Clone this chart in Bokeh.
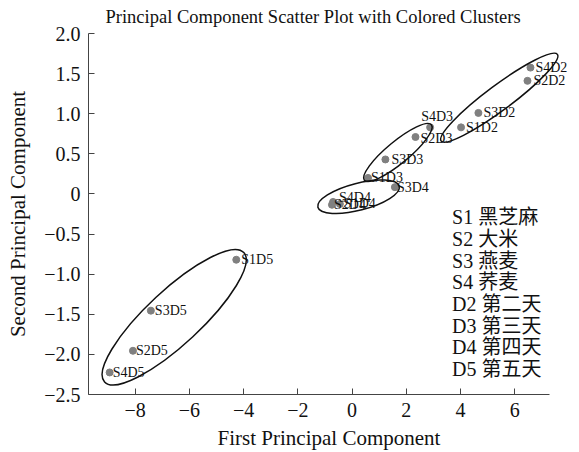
from bokeh.plotting import figure
from bokeh.models import ColumnDataSource, FixedTicker, Label
from bokeh.core.properties import value
from bokeh.embed import file_html
from bokeh.resources import INLINE

# ---- data ----
sample_labels = ["S1D2", "S2D2", "S3D2", "S4D2",
                 "S1D3", "S2D3", "S3D3", "S4D3",
                 "S1D4", "S2D4", "S3D4", "S4D4",
                 "S1D5", "S2D5", "S3D5", "S4D5"]
pc1 = [4.02, 6.47, 4.66, 6.58,
       0.59, 2.34, 1.23, 2.88,
       -0.45, -0.74, 1.58, -0.70,
       -4.27, -8.08, -7.42, -8.94]
pc2 = [0.83, 1.41, 1.01, 1.575,
       0.20, 0.71, 0.43, 0.83,
       -0.125, -0.135, 0.085, -0.10,
       -0.82, -1.955, -1.455, -2.225]

# cluster ellipses (one per day): centre in data units
cluster_names = ["D2", "D3", "D4", "D5"]
ellipse_cx = [5.43, 1.69, 0.24, -6.56]
ellipse_cy = [1.20, 0.517, -0.035, -1.537]

x_ticks = [-8, -6, -4, -2, 0, 2, 4, 6]
x_tick_labels = ["\u22128", "\u22126", "\u22124", "\u22122", "0", "2", "4", "6"]
y_ticks = [2.0, 1.5, 1.0, 0.5, 0.0, -0.5, -1.0, -1.5, -2.0, -2.5]
y_tick_labels = ["2.0", "1.5", "1.0", "0.5", "0", "\u22120.5", "\u22121.0",
                 "\u22121.5", "\u22122.0", "\u22122.5"]

legend_lines = ["S1 黑芝麻", "S2 大米", "S3 燕麦", "S4 荞麦",
                "D2 第二天", "D3 第三天", "D4 第四天", "D5 第五天"]

title_text = "Principal Component Scatter Plot with Colored Clusters"

# axis extents
x_axis_start, x_axis_end = -9.72, 7.29
y_axis_start, y_axis_end = -2.5, 2.0

# ---- styling (sizes / offsets, not data) ----
ellipse_w_px = [145, 87, 84, 190]
ellipse_h_px = [25, 22, 27, 54]
ellipse_angle_deg = [36.7, 39.6, 14.4, 42.9]
label_dx = [5, 6, 5, 5,
            3, 5, 6, -9,
            4, 2, 2, 6,
            5, 3, 4, 3]
label_dy = [0, 0, 0, 0,
            0, 2, 0, -11,
            0, 0, 0, -4,
            0, 0, 0, 0]

SERIF = "Liberation Serif, Noto Sans CJK SC"

# frame extended to the right (so labels/ellipse are not clipped);
# the drawn x axis is limited with `bounds`
p = figure(width=579, height=452, output_backend="svg", toolbar_location=None,
           x_range=(x_axis_start, 8.02), y_range=(y_axis_start, y_axis_end),
           min_border_left=88, min_border_right=10,
           min_border_top=33, min_border_bottom=57)
p.outline_line_color = None
p.grid.visible = False
p.background_fill_color = "white"
p.border_fill_color = "white"

p.title.text = title_text
p.title.align = "left"
p.title.offset = 17
p.title.vertical_align = "top"
p.title.text_font = SERIF
p.title.text_font_size = "18.5px"
p.title.text_font_style = "normal"
p.title.text_color = "#111111"

for ax in (p.xaxis[0], p.yaxis[0]):
    ax.axis_line_color = "#444444"
    ax.major_tick_line_color = "#444444"
    ax.major_tick_in = 6
    ax.major_tick_out = 0
    ax.minor_tick_line_color = None
    ax.major_label_text_font = SERIF
    ax.major_label_text_font_size = "20px"
    ax.major_label_text_color = "#111111"
    ax.axis_label_text_font = SERIF
    ax.axis_label_text_font_size = "21px"
    ax.axis_label_text_font_style = "normal"
    ax.axis_label_text_color = "#111111"

p.xaxis[0].bounds = (x_axis_start, x_axis_end)
p.xaxis[0].ticker = FixedTicker(ticks=x_ticks)
p.xaxis[0].major_label_overrides = dict(zip(x_ticks, x_tick_labels))
p.yaxis[0].ticker = FixedTicker(ticks=y_ticks)
p.yaxis[0].major_label_overrides = dict(zip(y_ticks, y_tick_labels))
p.xaxis[0].axis_label = "First Principal Component"
p.yaxis[0].axis_label = "Second Principal Component"
p.xaxis[0].major_label_standoff = 8
p.xaxis[0].axis_label_standoff = 6
p.yaxis[0].major_label_standoff = 8
p.yaxis[0].axis_label_standoff = 11

pts = ColumnDataSource(dict(x=pc1, y=pc2, label=sample_labels, dx=label_dx, dy=label_dy))
p.scatter("x", "y", source=pts, size=7, fill_color="#808080", line_color="#808080")
p.text("x", "y", text="label", source=pts, x_offset="dx", y_offset="dy",
       text_font=value(SERIF), text_font_size="14px", text_color="#111111",
       text_baseline="middle", text_align="left")

ell = ColumnDataSource(dict(x=ellipse_cx, y=ellipse_cy, w=ellipse_w_px,
                            h=ellipse_h_px, a=ellipse_angle_deg))
p.ellipse("x", "y", width="w", height="h", angle="a", source=ell,
          width_units="screen", height_units="screen", angle_units="deg",
          fill_color=None, line_color="#111111", line_width=1.5)

# legend-like text block
for i, line in enumerate(legend_lines):
    p.add_layout(Label(x=3.69, y=-0.29 - 0.27 * i, text=line,
                       text_font=SERIF, text_font_size="20px",
                       text_color="#111111", text_baseline="middle"))

open("out.html", "w").write(file_html(p, INLINE))
